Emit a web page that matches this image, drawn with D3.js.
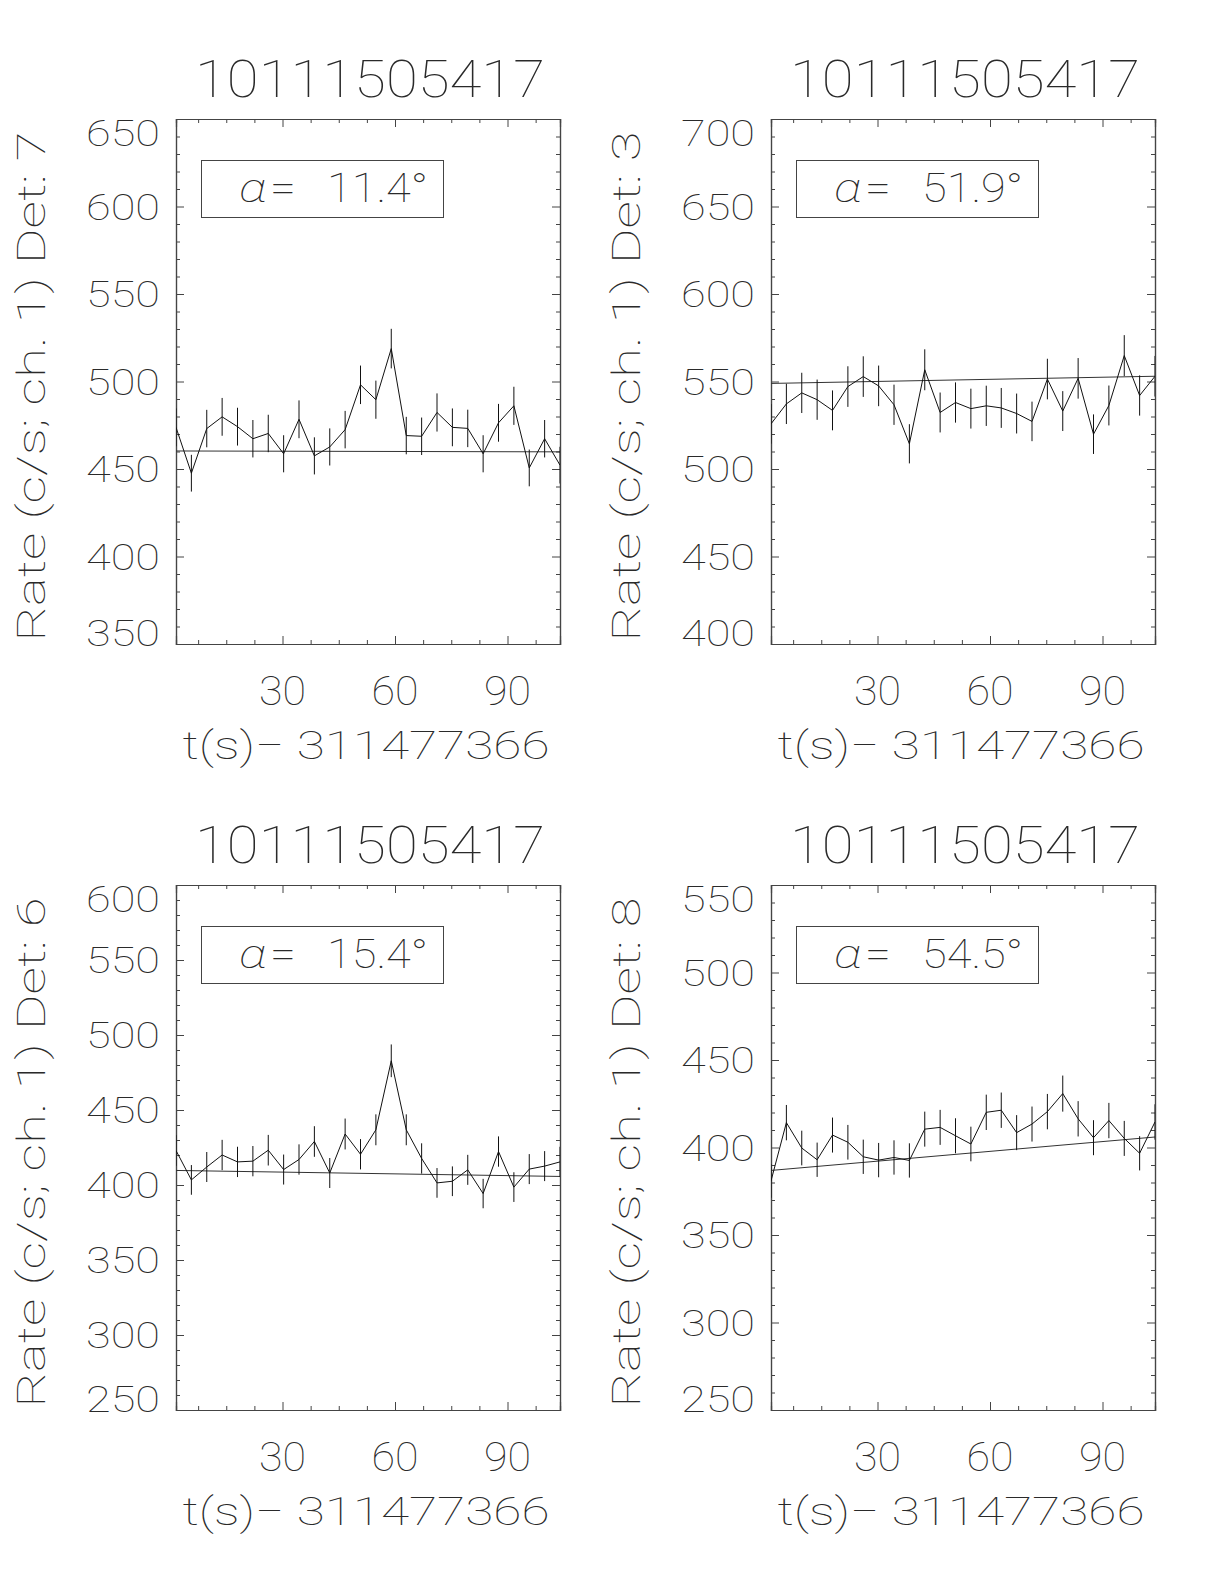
<!DOCTYPE html>
<html>
<head>
<meta charset="utf-8">
<script src="https://cdn.jsdelivr.net/npm/d3@7"></script>
<style>
  html, body { margin: 0; padding: 0; background: #fff; }
  svg { display: block; }
  text { font-family: Roboto, "Open Sans", "DejaVu Sans", sans-serif; font-weight: 100; fill: #2a2a2a; }
</style>
</head>
<body>
<svg id="chart" width="1224" height="1584"></svg>
<script>
// ---------------- DATA ----------------
const titles = ["10111505417", "10111505417", "10111505417", "10111505417"];
const detectors = ["7", "3", "6", "8"];
const alphas = ["11.4°", "51.9°", "15.4°", "54.5°"];
const xLabel = "t(s)\u2212 311477366";
const xTickValues = [30, 60, 90];

// bin times (s) relative to 311477366
const times = [1.6, 5.7, 9.8, 13.9, 18.0, 22.1, 26.2, 30.3, 34.4, 38.5, 42.6, 46.7, 50.8,
               54.9, 59.0, 63.0, 67.1, 71.2, 75.3, 79.4, 83.5, 87.6, 91.7, 95.8, 99.9, 104.0];

const yDomains = [[350, 650], [400, 700], [250, 600], [250, 550]];

const rateDet7 = [473.8, 447.6, 473.1, 479.8, 474.2, 467.3, 470.3, 458.7, 478.4, 457.5, 462.6, 472.5, 498.1,
                  489.6, 518.8, 469.1, 468.7, 482.3, 473.8, 473.2, 458.7, 476.4, 486.1, 450.6, 467.3, 452.2];
const errDet7  = [10.8, 10.5, 10.7, 10.8, 10.8, 10.7, 10.7, 10.6, 10.8, 10.6, 10.6, 10.7, 11.0,
                  10.9, 11.3, 10.7, 10.7, 10.9, 10.8, 10.7, 10.6, 10.8, 10.9, 10.5, 10.7, 10.5];
const fitDet7  = [460.3, 459.8];

const rateDet3 = [525.8, 537.2, 543.5, 539.6, 533.5, 547.1, 552.8, 547.5, 536.7, 514.4, 556.7, 532.3, 538.0,
                  534.5, 536.1, 534.9, 531.7, 527.2, 551.4, 533.1, 551.8, 519.9, 536.3, 564.8, 542.0, 553.0];
const errDet3  = [11.3, 11.5, 11.5, 11.5, 11.4, 11.6, 11.6, 11.6, 11.5, 11.2, 11.7, 11.4, 11.5,
                  11.4, 11.5, 11.4, 11.4, 11.3, 11.6, 11.4, 11.6, 11.3, 11.4, 11.7, 11.5, 11.6];
const fitDet3  = [548.9, 553.0];

const rateDet6 = [423.0, 403.4, 412.0, 420.0, 415.4, 415.9, 423.2, 410.3, 417.0, 429.0, 408.0, 434.0, 420.5,
                  436.8, 482.8, 436.8, 417.7, 401.4, 402.5, 410.1, 394.3, 422.3, 398.6, 410.6, 412.6, 415.4];
const errDet6  = [10.2, 9.9, 10.0, 10.1, 10.1, 10.1, 10.2, 10.0, 10.1, 10.2, 10.0, 10.3, 10.1,
                  10.3, 10.9, 10.3, 10.1, 9.9, 9.9, 10.0, 9.8, 10.1, 9.9, 10.0, 10.0, 10.1];
const fitDet6  = [409.7, 405.7];

const rateDet8 = [380.9, 414.2, 399.7, 393.0, 407.1, 403.0, 394.7, 392.8, 394.3, 392.6, 410.5, 411.5, 406.7,
                  402.0, 420.1, 421.3, 408.5, 413.4, 420.5, 430.8, 416.4, 405.6, 415.4, 405.2, 396.7, 414.6];
const errDet8  = [9.6, 10.1, 9.9, 9.8, 10.0, 9.9, 9.8, 9.8, 9.8, 9.8, 10.0, 10.0, 10.0,
                  9.9, 10.1, 10.1, 10.0, 10.0, 10.1, 10.3, 10.1, 10.0, 10.1, 10.0, 9.8, 10.1];
const fitDet8  = [386.9, 406.0];

const rates = [rateDet7, rateDet3, rateDet6, rateDet8];
const errs  = [errDet7, errDet3, errDet6, errDet8];
const fits  = [fitDet7, fitDet3, fitDet6, fitDet8];

// ---------------- LAYOUT ----------------
const panelPos = [[176, 119], [771, 119], [176, 885], [771, 885]];
const PW = 384, PH = 525;
const ink = "#111";

const svg = d3.select("#chart");

panelPos.forEach((pos, p) => {
  const [L, T] = pos;
  const g = svg.append("g").attr("transform", `translate(${L},${T})`);
  const x = d3.scaleLinear().domain([times[0], times[times.length - 1]]).range([0, PW]);
  const y = d3.scaleLinear().domain(yDomains[p]).range([PH, 0]);
  const [y0, y1] = yDomains[p];
  const yMajor = d3.range(y0, y1 + 0.001, 50);
  const yMinor = d3.range(y0, y1 + 0.001, 10).filter(v => !yMajor.includes(v));
  const xMinor = d3.range(7.5, 100, 7.5).filter(v => !xTickValues.includes(v));

  const axB = d3.axisBottom(x).tickValues(xTickValues).tickSize(-8).tickFormat("");
  const axBm = d3.axisBottom(x).tickValues(xMinor).tickSize(-4).tickFormat("");
  const axT = d3.axisTop(x).tickValues(xTickValues).tickSize(-8).tickFormat("");
  const axTm = d3.axisTop(x).tickValues(xMinor).tickSize(-4).tickFormat("");
  const axL = d3.axisLeft(y).tickValues(yMajor).tickSize(-8).tickFormat("");
  const axLm = d3.axisLeft(y).tickValues(yMinor).tickSize(-4).tickFormat("");
  const axR = d3.axisRight(y).tickValues(yMajor).tickSize(-8).tickFormat("");
  const axRm = d3.axisRight(y).tickValues(yMinor).tickSize(-4).tickFormat("");

  const put = (ax, tr) => {
    const a = g.append("g").attr("transform", tr).call(ax);
    a.selectAll("path.domain").attr("stroke", "#444").attr("stroke-width", 1.2);
    a.selectAll(".tick line").attr("stroke", "#444").attr("stroke-width", 1);
    return a;
  };
  put(axB, `translate(0,${PH})`); put(axBm, `translate(0,${PH})`);
  put(axT, "translate(0,0)"); put(axTm, "translate(0,0)");
  put(axL, "translate(0,0)"); put(axLm, "translate(0,0)");
  put(axR, `translate(${PW},0)`); put(axRm, `translate(${PW},0)`);

  // y tick labels
  yMajor.forEach(v => {
    let cy = y(v);
    cy = Math.max(14, Math.min(PH - 11, cy));
    g.append("text")
      .attr("x", -16).attr("y", cy + 13)
      .attr("text-anchor", "end")
      .attr("font-size", 37)
      .attr("textLength", 74).attr("lengthAdjust", "spacingAndGlyphs")
      .text(String(v));
  });

  // x tick labels
  xTickValues.forEach(v => {
    g.append("text")
      .attr("x", x(v)).attr("y", PH + 61)
      .attr("text-anchor", "middle")
      .attr("font-size", 40)
      .attr("textLength", 47).attr("lengthAdjust", "spacingAndGlyphs")
      .text(String(v));
  });

  // x title
  g.append("text")
    .attr("x", PW / 2 - 2).attr("y", PH + 115)
    .attr("text-anchor", "middle")
    .attr("font-size", 39)
    .attr("textLength", 367).attr("lengthAdjust", "spacingAndGlyphs")
    .text(xLabel);

  // title
  g.append("text")
    .attr("x", PW / 2 + 2).attr("y", -22)
    .attr("text-anchor", "middle")
    .attr("font-size", 51)
    .attr("textLength", 350).attr("lengthAdjust", "spacingAndGlyphs")
    .text(titles[p]);

  // y title
  g.append("text")
    .attr("transform", `translate(-131,${PH / 2 + 5}) rotate(-90)`)
    .attr("text-anchor", "middle")
    .attr("font-size", 38)
    .attr("textLength", 510).attr("lengthAdjust", "spacingAndGlyphs")
    .text(`Rate (c/s; ch. 1) Det: ${detectors[p]}`);

  // alpha box
  g.append("rect")
    .attr("x", 25.5).attr("y", 41.5).attr("width", 242).attr("height", 57)
    .attr("fill", "none").attr("stroke", "#444").attr("stroke-width", 1);
  const at = g.append("text").attr("y", 83).attr("font-size", 40);
  at.append("tspan").attr("x", 63)
    .attr("font-style", "italic").attr("textLength", 28).attr("lengthAdjust", "spacingAndGlyphs").text("α");
  at.append("tspan").attr("x", 94).attr("textLength", 26).attr("lengthAdjust", "spacingAndGlyphs").text("=");
  at.append("tspan").attr("x", 151).attr("textLength", 101).attr("lengthAdjust", "spacingAndGlyphs").text(alphas[p]);

  // data
  const clipId = `clip${p}`;
  g.append("clipPath").attr("id", clipId).append("rect").attr("width", PW).attr("height", PH);
  const dg = g.append("g").attr("clip-path", `url(#${clipId})`);

  dg.append("line")
    .attr("x1", x(times[0])).attr("x2", x(times[times.length - 1]))
    .attr("y1", y(fits[p][0])).attr("y2", y(fits[p][1]))
    .attr("stroke", "#333").attr("stroke-width", 1);

  dg.selectAll("line.err").data(times).enter().append("line")
    .attr("class", "err")
    .attr("x1", d => x(d)).attr("x2", d => x(d))
    .attr("y1", (d, i) => y(rates[p][i] - errs[p][i]))
    .attr("y2", (d, i) => y(rates[p][i] + errs[p][i]))
    .attr("stroke", ink).attr("stroke-width", 1);

  const line = d3.line().x((d, i) => x(times[i])).y(d => y(d));
  dg.append("path").datum(rates[p])
    .attr("d", line)
    .attr("fill", "none").attr("stroke", ink).attr("stroke-width", 1);
});
</script>
</body>
</html>
